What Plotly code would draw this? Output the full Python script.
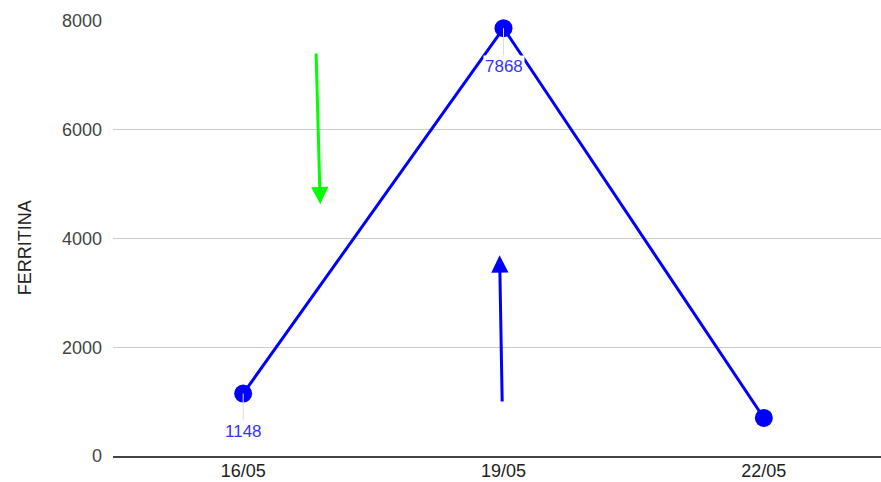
import plotly.graph_objects as go

# Ferritin readings by date
dates = ["16/05", "19/05", "22/05"]
ferritina = [1148, 7868, 700]
labeled_points = [0, 1]  # indices of readings that carry a value label

y_ticks = [0, 2000, 4000, 6000, 8000]
y_title = "FERRITINA"

# Trend arrows: (tip x, tip y, tail x, tail y, colour) in axis units
trend_arrows = [
    (0.296, 4630, 0.280, 7430, "#00ff00"),
    (0.985, 3690, 0.995, 975, "#0000ff"),
]

font_family = "Arial, 'Liberation Sans', sans-serif"

fig = go.Figure()
fig.add_trace(go.Scatter(
    x=dates,
    y=ferritina,
    mode="lines+markers",
    line=dict(color="#0000ff", width=3),
    marker=dict(color="#0000ff", size=18),
    cliponaxis=False,
    showlegend=False,
))

annotations = []
for i in labeled_points:
    annotations.append(dict(
        x=i, y=ferritina[i], xref="x", yref="y",
        text=str(ferritina[i]),
        showarrow=True, arrowhead=0, arrowwidth=1, arrowcolor="#dddddd",
        ax=0, ay=38, standoff=0,
        bgcolor="white", borderpad=1,
        font=dict(family=font_family, size=17, color="#3333ff"),
    ))

for tx, ty, sx, sy, col in trend_arrows:
    annotations.append(dict(
        x=tx, y=ty, xref="x", yref="y",
        ax=sx, ay=sy, axref="x", ayref="y",
        text="", showarrow=True,
        arrowhead=2, arrowsize=1.15, arrowwidth=3, arrowcolor=col,
    ))

# Vertical axis title, placed left of the tick labels
annotations.append(dict(
    text=y_title, textangle=-90,
    xref="paper", yref="paper", x=-0.1146, y=0.48,
    xanchor="center", yanchor="middle", showarrow=False,
    font=dict(family=font_family, size=18, color="#222222"),
))

fig.update_layout(
    width=881, height=482,
    margin=dict(l=113, r=0, t=21, b=26),
    paper_bgcolor="white", plot_bgcolor="white",
    font=dict(family=font_family, size=18, color="#222222"),
    annotations=annotations,
    xaxis=dict(
        type="category",
        range=[-0.5, 2.45],
        showgrid=False,
        showline=True, linecolor="#444444", linewidth=2,
        ticks="", ticklabelstandoff=-3,
        tickfont=dict(size=18, color="#222222"),
        zeroline=False, automargin=False,
    ),
    yaxis=dict(
        range=[0, 8000],
        tickvals=y_ticks,
        ticktext=[str(v) for v in y_ticks],
        showgrid=True, gridcolor="#cccccc", gridwidth=1,
        zeroline=False, automargin=False,
        ticks="", ticklabelstandoff=10,
        tickfont=dict(size=18, color="#444444"),
    ),
)

fig.write_html("out.html")
